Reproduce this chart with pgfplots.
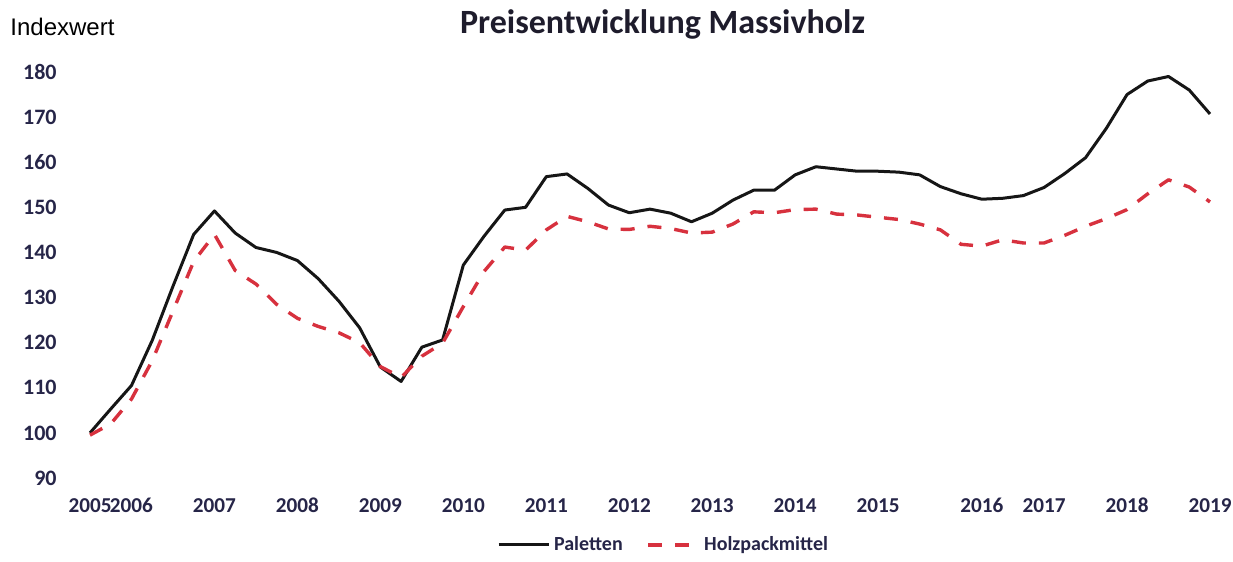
\documentclass[border=0pt]{standalone}
\usepackage{fontspec}
\setmainfont{Carlito}
\newfontfamily\arialfont{Liberation Sans}
\usepackage{pgfplots}
\pgfplotsset{compat=1.18}
\usepackage{pgfplotstable}
\definecolor{navy}{HTML}{262548}
\definecolor{titlecol}{HTML}{1E1C2C}
\definecolor{pal}{HTML}{161616}
\definecolor{holz}{HTML}{D7313E}

\pgfplotstableread{
t  pal   holz
0  100   99.5
1  105.3 102
2  110.5 107.5
3  120.5 116
4  132.5 127
5  144   138
6  149.2 144
7  144.3 136
8  141.1 133
9  140   128.5
10 138.2 125.4
11 134.2 123.6
12 129.2 122.2
13 123.3 120
14 114.6 114.7
15 111.4 112.3
16 119   117
17 120.6 119.9
18 137.2 128
19 143.6 135.8
20 149.4 141.2
21 150   140.5
22 156.8 145
23 157.4 148
24 154.2 146.8
25 150.5 145.2
26 148.8 145.1
27 149.6 145.8
28 148.7 145.3
29 146.8 144.3
30 148.7 144.5
31 151.6 146.3
32 153.8 149
33 153.8 148.8
34 157.2 149.5
35 159   149.6
36 158.5 148.5
37 158   148.3
38 158   147.8
39 157.8 147.3
40 157.2 146.3
41 154.6 145
42 153   141.8
43 151.8 141.4
44 152   142.8
45 152.6 142.1
46 154.4 142.1
47 157.5 143.8
48 161   145.8
49 167.5 147.5
50 175   149.5
51 178   153
52 179   156.1
53 176   154.5
54 170.7 151.2
}\datatable

\begin{document}
\begin{tikzpicture}
\path (0,0) rectangle (616.5pt,276.5pt);
\node[font=\fontsize{17}{20}\selectfont\bfseries, text=titlecol, anchor=base] at (331.25pt,259.75pt) {Preisentwicklung Massivholz};
\node[font=\arialfont\fontsize{12}{14}\selectfont, text=black, anchor=base west, inner sep=0pt] at (5pt,258.5pt) {Indexwert};
\begin{axis}[
  at={(45pt,37.5pt)}, anchor=south west,
  scale only axis, width=560pt, height=203pt,
  xmin=0, xmax=54, ymin=90, ymax=180,
  axis line style={draw=none}, major tick length=0pt,
  ytick={90,100,110,120,130,140,150,160,170,180},
  xtick={0,2,6,10,14,18,22,26,30,34,38,43,46,50,54},
  xticklabels={2005,2006,2007,2008,2009,2010,2011,2012,2013,2014,2015,2016,2017,2018,2019},
  /pgf/number format/assume math mode=true,
  tick label style={font=\fontsize{11}{13}\selectfont\bfseries, text=navy},
  yticklabel style={anchor=east, inner sep=0pt, xshift=-16.5pt},
  xticklabel style={anchor=base, inner sep=0pt, yshift=-17.5pt, font=\fontsize{10.6}{13}\selectfont\bfseries},
  clip=false,
  legend columns=2,
  legend style={at={(0.513,0)}, anchor=center, yshift=-33.5pt, draw=none, fill=none,
    font=\fontsize{10}{12}\selectfont\bfseries, text=navy,
    /tikz/every even column/.append style={column sep=10pt}},
  legend image code/.code={\draw[#1] (0pt,0pt) -- (25pt,0pt);},
]
\addplot[pal, line width=1.5pt, line join=round] table[x=t, y=pal] {\datatable};
\addlegendentry{Paletten}
\addplot[holz, line width=1.7pt, dash pattern=on 7pt off 6.5pt, line join=round] table[x=t, y=holz] {\datatable};
\addlegendentry{Holzpackmittel}
\end{axis}
\end{tikzpicture}
\end{document}
